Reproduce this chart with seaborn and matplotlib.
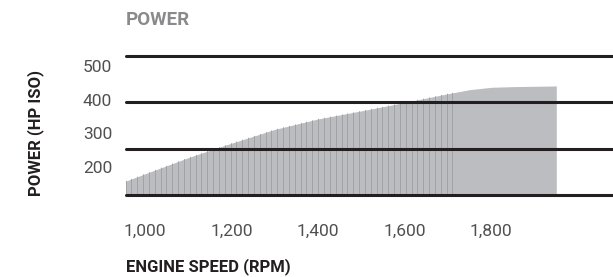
import numpy as np
import matplotlib
matplotlib.use("Agg")
import matplotlib.pyplot as plt
import seaborn as sns

# engine speed (rpm) and power (hp iso)
rpm = [955, 1000, 1100, 1150, 1200, 1300, 1400, 1500, 1600, 1700, 1750, 1800, 1850, 1900, 1950]
power = [158, 180, 228, 250, 271, 312, 343, 367, 392, 418, 430, 437, 439, 440, 441]
# speed where the dense sample strokes stop
stroke_end = 1710
x_ticks = [1000, 1200, 1400, 1600, 1800]
x_labels = ["1,000", "1,200", "1,400", "1,600", "1,800"]
y_ticks = [200, 300, 400, 500]

sns.set_theme(style="white")
plt.rcParams["font.family"] = ["Roboto", "DejaVu Sans"]

W, H = 613, 277
fig = plt.figure(figsize=(W / 100, H / 100), dpi=100)
ax = fig.add_axes([126 / W, (H - 195) / H, 1 - 126 / W, (195 - 56) / H])

ymin, ymax = 117, 530
ax.set_xlim(956, 2081)
ax.set_ylim(ymin, ymax)

poly = ax.fill_between(rpm, ymin, power, color="#bcbdc0", linewidth=0, zorder=1)

# thin vertical strokes inside the filled area
xs = np.linspace(rpm[0], stroke_end, 57)
vl = ax.vlines(xs, ymin, ymax, color="#a2a3a6", linewidth=0.7, zorder=2)
vl.set_clip_path(poly.get_paths()[0], ax.transData)

for yv in np.linspace(ymin, ymax, 4):
    ax.axhline(yv, color="#231f20", linewidth=2.2, zorder=3, clip_on=False)

sns.despine(ax=ax, left=True, bottom=True)
ax.set_xticks(x_ticks)
ax.set_xticklabels(x_labels)
ax.set_yticks(y_ticks)
ax.set_yticklabels([str(v) for v in y_ticks])
ax.tick_params(axis="x", length=0, pad=21, labelsize=12.5, labelcolor="#505052")
ax.tick_params(axis="y", length=0, pad=10, labelsize=12.5, labelcolor="#505052")
ax.grid(False)

fig.text(126 / W, 1 - 20 / H, "POWER", fontsize=13.5, fontweight="bold",
         color="#8a8a8c", ha="left", va="center")
fig.text(126 / W, 1 - 267 / H, "ENGINE SPEED (RPM)", fontsize=12, fontweight="bold",
         color="#231f20", ha="left", va="center")
fig.text(36 / W, 1 - 133 / H, "POWER (HP ISO)", fontsize=12, fontweight="bold",
         color="#231f20", ha="center", va="center", rotation=90)

fig.savefig("out.png", dpi=100)
